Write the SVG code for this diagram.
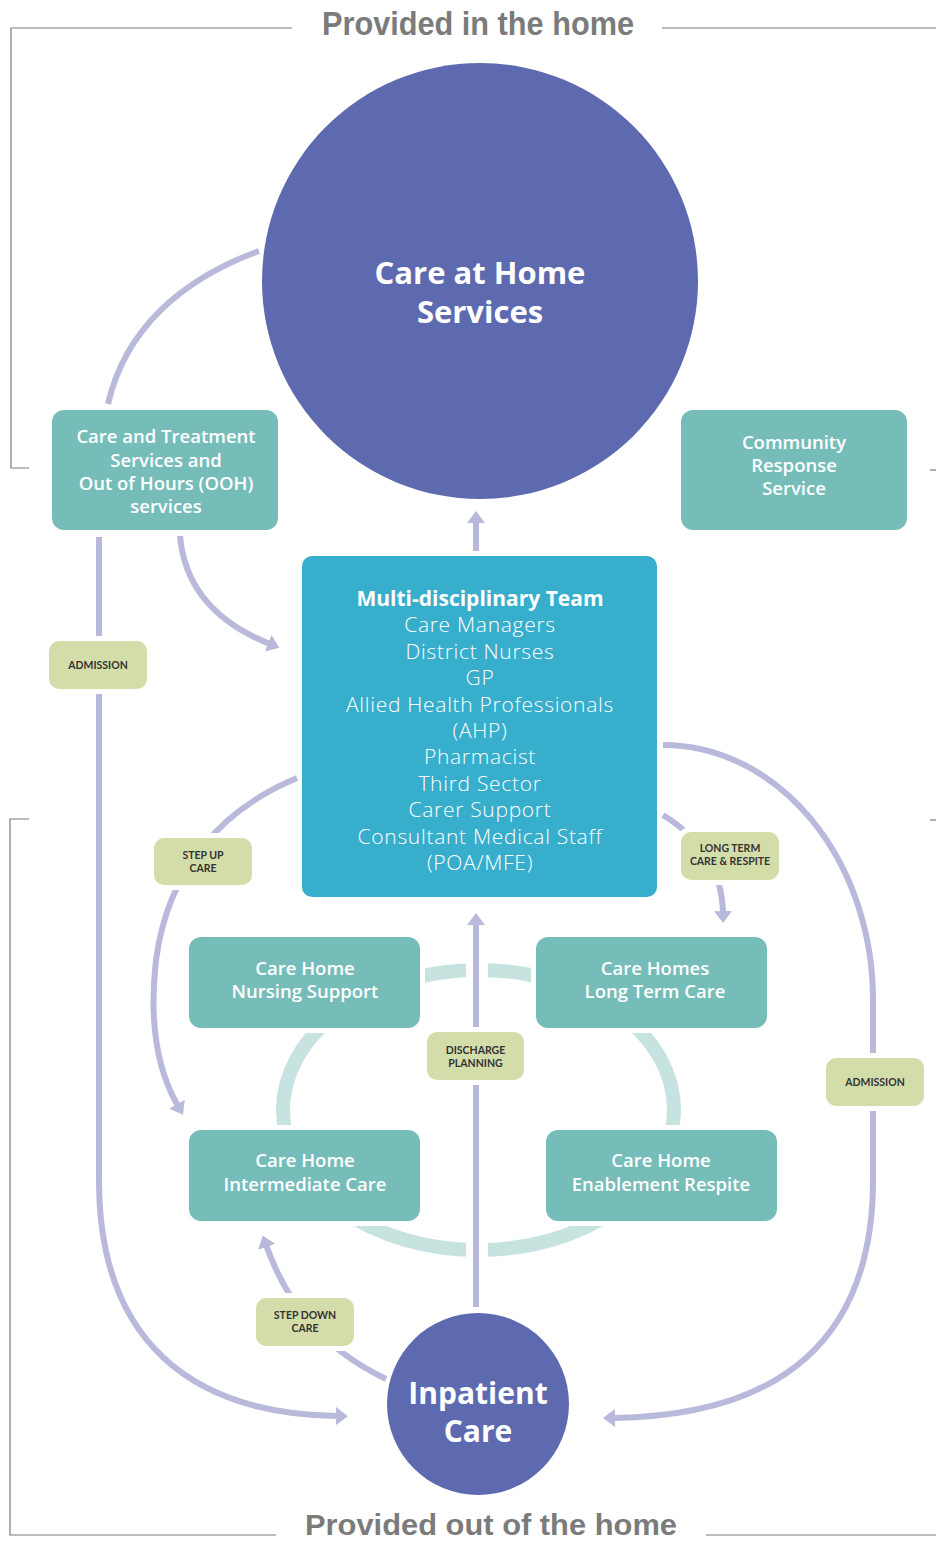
<svg xmlns="http://www.w3.org/2000/svg" width="936" height="1542" viewBox="0 0 936 1542">
<style>
.frame{fill:none;stroke:#7a7a7a;stroke-width:1.2}
.title{font-family:"Liberation Sans",Arial,sans-serif;font-weight:700;fill:#7b7b7b}
.circ{fill:#5e6aaf}
.box{fill:#76bdb9;stroke:#fff;stroke-width:10;paint-order:stroke}
.mdt{fill:#37aecc}
.wt{font-family:"Open Sans",Lato,sans-serif;font-weight:700;fill:#fff;text-anchor:middle}
.bt{font-family:"Open Sans",Lato,sans-serif;font-weight:600;fill:#fff;text-anchor:middle;font-size:18.5px}
.wl{font-family:"Open Sans",Lato,sans-serif;font-weight:300;fill:#fff;text-anchor:middle;font-size:21px;letter-spacing:0.7px}
.lab{fill:#d3ddaa;stroke:#fff;stroke-width:10;paint-order:stroke}
.lt{font-family:Lato,"Open Sans",sans-serif;font-weight:700;fill:#333;text-anchor:middle;font-size:10.5px}
.con{fill:none;stroke:#b9b9dc;stroke-width:6}
.ring{fill:none;stroke:#c6e3e0;stroke-width:14}
</style>
<defs>
<marker id="ah" markerUnits="userSpaceOnUse" markerWidth="12" markerHeight="18" viewBox="0 0 12 18" refX="2" refY="9" orient="auto"><path d="M0,0 L12,9 L0,18 z" fill="#b9b9dc"/></marker>
</defs>
<rect width="936" height="1542" fill="#fff"/>
<g id="frames">
<path class="frame" d="M292,28 H11 V468 H29"/>
<path class="frame" d="M662,28 H936"/>
<path class="frame" d="M930,470 H936"/>
<path class="frame" d="M29,819 H10 V1535 H276"/>
<path class="frame" d="M706,1535 H936"/>
<path class="frame" d="M930,820 H936"/>
<text class="title" x="478" y="35" font-size="33" text-anchor="middle" textLength="312" lengthAdjust="spacingAndGlyphs">Provided in the home</text>
<text class="title" x="491" y="1535" font-size="30" text-anchor="middle" textLength="372" lengthAdjust="spacingAndGlyphs">Provided out of the home</text>
</g>
<g id="ring">
<ellipse class="ring" cx="478.5" cy="1110" rx="195.5" ry="140"/>
<rect x="466" y="955" width="22" height="30" fill="#fff"/>
<rect x="466" y="1235" width="22" height="30" fill="#fff"/>
</g>
<g id="connectors">
<path class="con" d="M108,404 C125,330 180,280 259,251"/>
<path class="con" d="M476,551 L476,521" marker-end="url(#ah)"/>
<path class="con" d="M180,536 C185,592 222,625 270,644" marker-end="url(#ah)"/>
<path class="con" d="M99,537 L99,1180 C99,1340 190,1414 338,1416" marker-end="url(#ah)"/>
<path class="con" d="M663,745 A210,255 0 0 1 873,1000 L873,1180 C873,1340 780,1416 613,1418" marker-end="url(#ah)"/>
<path class="con" d="M297,778 C220,810 168,870 156,960 C148,1030 160,1075 178,1106" marker-end="url(#ah)"/>
<path class="con" d="M663,815 C700,838 722,870 723,913" marker-end="url(#ah)"/>
<path class="con" d="M386,1379 C330,1352 290,1312 266,1245" marker-end="url(#ah)"/>
<path class="con" d="M476,1307 L476,923" marker-end="url(#ah)"/>
</g>
<g id="care-at-home">
<circle class="circ" cx="480" cy="281" r="218"/>
<text class="wt" font-size="31"><tspan x="480" y="284">Care at Home</tspan><tspan x="480" y="323">Services</tspan></text>
</g>
<g id="care-treatment">
<rect class="box" x="52" y="410" width="226" height="120" rx="12"/>
<text class="bt"><tspan x="166" y="443">Care and Treatment</tspan><tspan x="166" y="467">Services and</tspan><tspan x="166" y="490">Out of Hours (OOH)</tspan><tspan x="166" y="513">services</tspan></text>
</g>
<g id="community-response">
<rect class="box" x="681" y="410" width="226" height="120" rx="12"/>
<text class="bt"><tspan x="794" y="449">Community</tspan><tspan x="794" y="472">Response</tspan><tspan x="794" y="495">Service</tspan></text>
</g>
<g id="mdt">
<rect class="mdt" x="302" y="556" width="355" height="341" rx="10"/>
<text class="wt" font-size="21" x="480" y="606">Multi-disciplinary Team</text>
<text class="wl"><tspan x="480" y="632">Care Managers</tspan><tspan x="480" y="659">District Nurses</tspan><tspan x="480" y="685">GP</tspan><tspan x="480" y="712">Allied Health Professionals</tspan><tspan x="480" y="738">(AHP)</tspan><tspan x="480" y="764">Pharmacist</tspan><tspan x="480" y="791">Third Sector</tspan><tspan x="480" y="817">Carer Support</tspan><tspan x="480" y="844">Consultant Medical Staff</tspan><tspan x="480" y="870">(POA/MFE)</tspan></text>
</g>
<g id="nursing-support">
<rect class="box" x="189" y="937" width="231" height="91" rx="12"/>
<text class="bt"><tspan x="305" y="975">Care Home</tspan><tspan x="305" y="998">Nursing Support</tspan></text>
</g>
<g id="long-term-care">
<rect class="box" x="536" y="937" width="231" height="91" rx="12"/>
<text class="bt"><tspan x="655" y="975">Care Homes</tspan><tspan x="655" y="998">Long Term Care</tspan></text>
</g>
<g id="intermediate-care">
<rect class="box" x="189" y="1130" width="231" height="91" rx="12"/>
<text class="bt"><tspan x="305" y="1167">Care Home</tspan><tspan x="305" y="1191">Intermediate Care</tspan></text>
</g>
<g id="enablement-respite">
<rect class="box" x="546" y="1130" width="231" height="91" rx="12"/>
<text class="bt"><tspan x="661" y="1167">Care Home</tspan><tspan x="661" y="1191">Enablement Respite</tspan></text>
</g>
<g id="inpatient">
<circle class="circ" cx="478" cy="1404" r="91"/>
<text class="wt" font-size="30"><tspan x="478" y="1404">Inpatient</tspan><tspan x="478" y="1442">Care</tspan></text>
</g>
<g id="labels">
<g id="lbl-admission-left"><rect class="lab" x="49" y="641" width="98" height="48" rx="10"/><text class="lt" x="98" y="669">ADMISSION</text></g>
<g id="lbl-step-up"><rect class="lab" x="154" y="838" width="98" height="47" rx="10"/><text class="lt"><tspan x="203" y="859">STEP UP</tspan><tspan x="203" y="872">CARE</tspan></text></g>
<g id="lbl-long-term"><rect class="lab" x="681" y="832" width="98" height="48" rx="10"/><text class="lt"><tspan x="730" y="852">LONG TERM</tspan><tspan x="730" y="865">CARE &amp; RESPITE</tspan></text></g>
<g id="lbl-discharge"><rect class="lab" x="427" y="1032" width="97" height="48" rx="10"/><text class="lt"><tspan x="475.5" y="1054">DISCHARGE</tspan><tspan x="475.5" y="1067">PLANNING</tspan></text></g>
<g id="lbl-admission-right"><rect class="lab" x="826" y="1058" width="98" height="48" rx="10"/><text class="lt" x="875" y="1086">ADMISSION</text></g>
<g id="lbl-step-down"><rect class="lab" x="256" y="1298" width="98" height="48" rx="10"/><text class="lt"><tspan x="305" y="1319">STEP DOWN</tspan><tspan x="305" y="1332">CARE</tspan></text></g>
</g>
</svg>
